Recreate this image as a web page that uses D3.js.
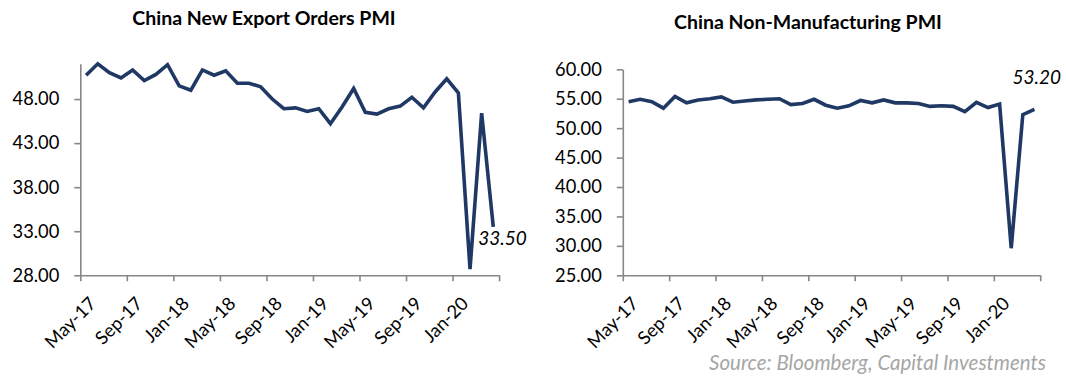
<!DOCTYPE html>
<html>
<head>
<meta charset="utf-8">
<script src="https://cdn.jsdelivr.net/npm/d3@7"></script>
<style>
  html, body { margin: 0; padding: 0; background: #fff; }
  svg { display: block; }
  text { font-family: Lato, "Open Sans", sans-serif; }
</style>
</head>
<body>
<svg id="chart" width="1066" height="378"></svg>
<script>
// Monthly categories, May 2017 – Apr 2020
const months = [
  "May-17","Jun-17","Jul-17","Aug-17","Sep-17","Oct-17","Nov-17","Dec-17",
  "Jan-18","Feb-18","Mar-18","Apr-18","May-18","Jun-18","Jul-18","Aug-18",
  "Sep-18","Oct-18","Nov-18","Dec-18","Jan-19","Feb-19","Mar-19","Apr-19",
  "May-19","Jun-19","Jul-19","Aug-19","Sep-19","Oct-19","Nov-19","Dec-19",
  "Jan-20","Feb-20","Mar-20","Apr-20"
];

// NBS new export orders sub-index
const exportOrders = [
  50.7, 52.0, 51.0, 50.4, 51.3, 50.1, 50.8, 51.9,
  49.5, 49.0, 51.3, 50.7, 51.2, 49.8, 49.8, 49.4,
  48.0, 46.9, 47.0, 46.6, 46.9, 45.2, 47.1, 49.2,
  46.5, 46.3, 46.9, 47.2, 48.2, 47.0, 48.8, 50.3,
  48.7, 28.7, 46.4, 33.5
];

// NBS non-manufacturing PMI
const nonManufacturing = [
  54.5, 54.9, 54.5, 53.4, 55.4, 54.3, 54.8, 55.0,
  55.3, 54.4, 54.6, 54.8, 54.9, 55.0, 54.0, 54.2,
  54.9, 53.9, 53.4, 53.8, 54.7, 54.3, 54.8, 54.3,
  54.3, 54.2, 53.7, 53.8, 53.7, 52.8, 54.4, 53.5,
  54.1, 29.6, 52.3, 53.2
];

const leftTicks = [28, 33, 38, 43, 48];
const rightTicks = [25, 30, 35, 40, 45, 50, 55, 60];
const tickEvery = 4;

const titles = ["China New Export Orders PMI", "China Non-Manufacturing PMI"];
const sourceNote = "Source: Bloomberg, Capital Investments";

const svg = d3.select("#chart");
const lineColor = "#1f3864";
const axisColor = "#878787";
const tickFont = 18.3;
const fontStack = "Lato, 'Open Sans', sans-serif";

function drawPanel(cfg) {
  const g = svg.append("g");
  const n = cfg.values.length;

  // continuous index scale so ticks can sit on month boundaries
  const xi = d3.scaleLinear().domain([0, n]).range([cfg.x0, cfg.x1]);
  const y = d3.scaleLinear().domain(cfg.domain).range([cfg.yBottom, cfg.yTop]);

  // title
  g.append("text")
    .attr("x", cfg.titleX).attr("y", cfg.titleY)
    .attr("text-anchor", "middle")
    .attr("font-weight", "bold")
    .attr("font-size", 19.5)
    .attr("fill", "#000")
    .text(cfg.title);

  // y axis
  const yAxis = g.append("g")
    .attr("transform", `translate(${cfg.x0},0)`)
    .call(d3.axisLeft(y).tickValues(cfg.ticks).tickFormat(d3.format(".2f"))
      .tickSize(6).tickSizeOuter(0).tickPadding(15));
  yAxis.select(".domain").attr("stroke", axisColor).attr("stroke-width", 1.6);
  yAxis.selectAll(".tick line").attr("stroke", axisColor).attr("stroke-width", 1.6);
  yAxis.selectAll(".tick text")
    .attr("font-size", tickFont).attr("fill", "#000")
    .style("font-family", fontStack);

  // x axis: tick marks on boundaries every 4 months
  const boundaries = d3.range(0, n + 1, tickEvery);
  const xAxis = g.append("g")
    .attr("transform", `translate(0,${cfg.yBottom})`)
    .call(d3.axisBottom(xi).tickValues(boundaries).tickFormat("")
      .tickSize(6).tickSizeOuter(0));
  xAxis.select(".domain").attr("stroke", axisColor).attr("stroke-width", 1.6);
  xAxis.selectAll(".tick line").attr("stroke", axisColor).attr("stroke-width", 1.6);

  // month labels centred on their month, rotated
  const labelIdx = d3.range(0, n - 3, tickEvery);
  const xLabels = g.append("g")
    .attr("transform", `translate(0,${cfg.yBottom})`)
    .call(d3.axisBottom(xi).tickValues(labelIdx.map(i => i + 0.5))
      .tickFormat(v => months[Math.floor(v)]).tickSize(0));
  xLabels.select(".domain").remove();
  xLabels.selectAll(".tick text")
    .attr("font-size", tickFont).attr("fill", "#000")
    .style("font-family", fontStack)
    .attr("text-anchor", "end")
    .attr("x", 0).attr("y", 0).attr("dy", "0.35em")
    .attr("transform", "translate(6,25) rotate(-45)");

  // series line
  const line = d3.line()
    .x((d, i) => xi(i + 0.5))
    .y(d => y(d));
  g.append("path")
    .datum(cfg.values)
    .attr("fill", "none")
    .attr("stroke", lineColor)
    .attr("stroke-width", 3.6)
    .attr("stroke-linejoin", "miter")
    .attr("d", line);

  // label for the latest reading
  const last = cfg.values[n - 1];
  g.append("text")
    .attr("x", xi(n - 0.5) + cfg.labelDx)
    .attr("y", y(last) + cfg.labelDy)
    .attr("font-size", 19)
    .attr("font-style", "italic")
    .attr("fill", "#000")
    .text(d3.format(".2f")(last));
}

drawPanel({
  title: titles[0], titleX: 264, titleY: 25,
  values: exportOrders, domain: [28, 52], ticks: leftTicks,
  x0: 80.3, x1: 499.1, yTop: 63.8, yBottom: 275.3,
  labelDx: -15, labelDy: 18
});

drawPanel({
  title: titles[1], titleX: 808, titleY: 29,
  values: nonManufacturing, domain: [25, 60], ticks: rightTicks,
  x0: 622.8, x1: 1040.2, yTop: 69.3, yBottom: 275.3,
  labelDx: -22, labelDy: -25
});

svg.append("text")
  .attr("x", 1046).attr("y", 370)
  .attr("text-anchor", "end")
  .attr("font-size", 20.5)
  .attr("font-style", "italic")
  .attr("fill", "#a6a6a6")
  .text(sourceNote);
</script>
</body>
</html>
